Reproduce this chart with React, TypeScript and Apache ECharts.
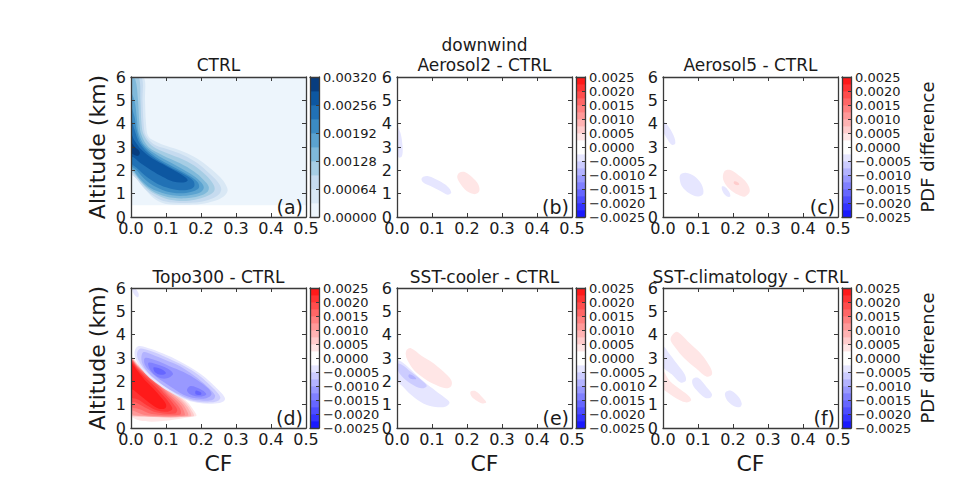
import React, { useEffect, useRef } from "react";
import * as echarts from "echarts";

// ---------- colour levels ----------
const CTRL_LEVELS = [0, 0.00032, 0.00064, 0.00096, 0.00128, 0.0016, 0.00192, 0.00224, 0.00256, 0.00288, 0.0032];
const CTRL_COLORS = ["#edf5fc", "#d9e8f5", "#c6dbef", "#a6cde4", "#7fb9da", "#5ba3d0", "#3b8bc3", "#2171b5", "#0d57a1", "#083d7f"];
const DIFF_LEVELS = [-0.0025, -0.00225, -0.002, -0.00175, -0.0015, -0.00125, -0.001, -0.00075, -0.0005, -0.00025, 0,
  0.00025, 0.0005, 0.00075, 0.001, 0.00125, 0.0015, 0.00175, 0.002, 0.00225, 0.0025];
const DIFF_COLORS = ["#1a1aff", "#3333ff", "#4d4dff", "#6666ff", "#8080ff", "#9999ff", "#b3b3ff", "#ccccff", "#e6e6ff", "#ffffff",
  "#ffffff", "#ffe6e6", "#ffcccc", "#ffb3b3", "#ff9999", "#ff8080", "#ff6666", "#ff4d4d", "#ff3333", "#ff1a1a"];

// ---------- contour polygons: [threshold, [[CF, altitude km], ...]] ----------
type Contour = [number, number[][]];

const CTRL_CONTOURS: Contour[] = [
  [0, [[0, 0.5], [0.5, 0.5], [0.5, 6], [0, 6]]],
  [0.00032, [[0, 6], [0.036, 6], [0.04, 5], [0.043, 4], [0.05, 3.45], [0.075, 3.2], [0.1, 3.05], [0.15, 2.8], [0.19, 2.5], [0.23, 2.05], [0.255, 1.7], [0.27, 1.4], [0.276, 1.12], [0.265, 0.88], [0.24, 0.7], [0.2, 0.56], [0.14, 0.53], [0.1, 0.56], [0.07, 0.75], [0.045, 1.1], [0.02, 1.6], [0, 1.9]]],
  [0.00064, [[0, 6], [0.03, 6], [0.033, 5], [0.036, 4], [0.042, 3.5], [0.065, 3.12], [0.1, 2.92], [0.15, 2.65], [0.19, 2.3], [0.225, 1.85], [0.248, 1.5], [0.258, 1.2], [0.25, 0.95], [0.23, 0.78], [0.19, 0.63], [0.14, 0.6], [0.1, 0.66], [0.07, 0.85], [0.04, 1.2], [0.015, 1.65], [0, 1.95]]],
  [0.00096, [[0, 6], [0.022, 6], [0.027, 5], [0.03, 4], [0.037, 3.5], [0.06, 3.05], [0.1, 2.75], [0.15, 2.45], [0.19, 2.1], [0.22, 1.7], [0.237, 1.35], [0.238, 1.12], [0.225, 0.95], [0.2, 0.8], [0.165, 0.7], [0.13, 0.7], [0.1, 0.78], [0.07, 0.97], [0.04, 1.3], [0.015, 1.75], [0, 2.05]]],
  [0.00128, [[0, 5.9], [0.012, 5.9], [0.02, 5], [0.024, 4], [0.03, 3.5], [0.05, 3.0], [0.09, 2.65], [0.14, 2.3], [0.18, 1.95], [0.207, 1.6], [0.222, 1.3], [0.218, 1.07], [0.195, 0.9], [0.155, 0.8], [0.12, 0.82], [0.09, 0.92], [0.06, 1.12], [0.03, 1.5], [0.01, 1.9], [0, 2.1]]],
  [0.0016, [[0, 5.3], [0.01, 5.0], [0.017, 4.2], [0.022, 3.6], [0.04, 3.05], [0.08, 2.6], [0.13, 2.2], [0.17, 1.85], [0.198, 1.52], [0.208, 1.27], [0.2, 1.07], [0.175, 0.95], [0.14, 0.9], [0.11, 0.95], [0.08, 1.08], [0.05, 1.3], [0.025, 1.65], [0.008, 2.0], [0, 2.2]]],
  [0.00192, [[0, 4.7], [0.01, 4.3], [0.016, 3.75], [0.03, 3.15], [0.07, 2.58], [0.12, 2.15], [0.163, 1.8], [0.19, 1.5], [0.194, 1.25], [0.178, 1.1], [0.15, 1.02], [0.12, 1.04], [0.09, 1.16], [0.06, 1.38], [0.035, 1.68], [0.015, 2.02], [0, 2.25]]],
  [0.00224, [[0, 4.2], [0.01, 3.75], [0.025, 3.15], [0.06, 2.6], [0.11, 2.15], [0.15, 1.84], [0.178, 1.55], [0.18, 1.3], [0.16, 1.16], [0.128, 1.17], [0.1, 1.27], [0.07, 1.47], [0.04, 1.78], [0.015, 2.12], [0, 2.35]]],
  [0.00256, [[0, 3.55], [0.01, 3.28], [0.03, 2.88], [0.06, 2.52], [0.09, 2.27], [0.12, 2.02], [0.15, 1.76], [0.162, 1.58], [0.15, 1.48], [0.12, 1.52], [0.09, 1.72], [0.06, 1.98], [0.03, 2.28], [0.01, 2.53], [0, 2.62]]],
  [0.00288, [[0, 3.2], [0.01, 3.02], [0.025, 2.78], [0.02, 2.62], [0.005, 2.7], [0, 2.78]]],
];

const AEROSOL2_CONTOURS: Contour[] = [
  [-0.00025, [[0, 3.9], [0.01, 3.6], [0.016, 3.0], [0.014, 2.6], [0.005, 2.55], [0, 2.8]]],
  [-0.00025, [[0.075, 1.72], [0.09, 1.75], [0.12, 1.55], [0.145, 1.3], [0.155, 1.05], [0.145, 0.95], [0.125, 1.1], [0.1, 1.3], [0.078, 1.45], [0.07, 1.6]]],
  [0.00025, [[0.178, 1.9], [0.195, 1.92], [0.215, 1.7], [0.232, 1.4], [0.235, 1.1], [0.222, 0.98], [0.2, 1.1], [0.182, 1.4], [0.172, 1.7]]],
];

const AEROSOL5_CONTOURS: Contour[] = [
  [-0.00025, [[0, 4.1], [0.012, 3.95], [0.03, 3.5], [0.035, 3.15], [0.025, 3.1], [0.01, 3.4], [0, 3.7]]],
  [-0.00025, [[0.05, 1.82], [0.065, 1.9], [0.09, 1.75], [0.11, 1.4], [0.115, 1.0], [0.1, 0.88], [0.075, 1.02], [0.055, 1.3], [0.048, 1.6]]],
  [0.00025, [[0.175, 1.95], [0.19, 2.02], [0.215, 1.8], [0.24, 1.45], [0.248, 1.1], [0.235, 0.88], [0.215, 0.95], [0.19, 1.2], [0.172, 1.6]]],
  [0.0005, [[0.203, 1.52], [0.212, 1.5], [0.218, 1.4], [0.212, 1.36], [0.203, 1.42]]],
  [-0.00025, [[0.168, 1.3], [0.178, 1.28], [0.19, 1.05], [0.192, 0.88], [0.183, 0.88], [0.172, 1.05]]],
];

const TOPO300_CONTOURS: Contour[] = [
  [-0.00025, [[0.003, 5.98], [0.012, 5.98], [0.022, 5.75], [0.02, 5.6], [0.01, 5.7]]],
  [0.00025, [[0, 3.05], [0.02, 2.75], [0.05, 2.35], [0.08, 2.0], [0.12, 1.6], [0.155, 1.2], [0.175, 0.85], [0.185, 0.5], [0, 0.5]]],
  [0.0005, [[0, 3.0], [0.02, 2.71], [0.05, 2.31], [0.08, 1.96], [0.118, 1.56], [0.152, 1.16], [0.17, 0.83], [0.178, 0.5], [0.005, 0.5], [0, 0.52]]],
  [0.00075, [[0, 2.97], [0.02, 2.68], [0.05, 2.28], [0.08, 1.93], [0.115, 1.53], [0.148, 1.13], [0.165, 0.8], [0.17, 0.5], [0.015, 0.5], [0, 0.58]]],
  [0.001, [[0, 2.95], [0.02, 2.65], [0.05, 2.25], [0.08, 1.9], [0.112, 1.5], [0.143, 1.1], [0.158, 0.78], [0.162, 0.52], [0.03, 0.52], [0, 0.68]]],
  [0.00125, [[0, 2.92], [0.02, 2.62], [0.05, 2.22], [0.08, 1.86], [0.108, 1.47], [0.137, 1.07], [0.15, 0.77], [0.152, 0.54], [0.045, 0.55], [0.01, 0.72], [0, 0.8]]],
  [0.0015, [[0, 2.89], [0.02, 2.59], [0.05, 2.19], [0.078, 1.83], [0.104, 1.44], [0.13, 1.04], [0.142, 0.76], [0.14, 0.57], [0.06, 0.6], [0.025, 0.8], [0, 0.95]]],
  [0.00175, [[0, 2.86], [0.02, 2.55], [0.048, 2.15], [0.075, 1.8], [0.1, 1.4], [0.122, 1.02], [0.132, 0.77], [0.125, 0.62], [0.075, 0.66], [0.04, 0.88], [0.012, 1.1], [0, 1.15]]],
  [0.002, [[0, 2.82], [0.02, 2.5], [0.045, 2.1], [0.07, 1.75], [0.094, 1.36], [0.113, 1.0], [0.118, 0.8], [0.105, 0.7], [0.075, 0.75], [0.045, 0.98], [0.02, 1.22], [0, 1.35]]],
  [0.00225, [[0, 2.75], [0.02, 2.42], [0.04, 2.05], [0.063, 1.7], [0.085, 1.33], [0.1, 1.02], [0.098, 0.85], [0.08, 0.83], [0.055, 1.05], [0.03, 1.35], [0.01, 1.6], [0, 1.7]]],
  [-0.00025, [[0.02, 3.5], [0.05, 3.42], [0.09, 3.2], [0.14, 2.85], [0.2, 2.3], [0.245, 1.7], [0.268, 1.3], [0.265, 1.15], [0.24, 1.05], [0.19, 1.08], [0.15, 1.25], [0.11, 1.55], [0.07, 1.95], [0.04, 2.35], [0.02, 2.75], [0.01, 3.2]]],
  [-0.0005, [[0.025, 3.4], [0.05, 3.33], [0.09, 3.1], [0.14, 2.75], [0.19, 2.3], [0.235, 1.7], [0.255, 1.33], [0.25, 1.18], [0.23, 1.1], [0.19, 1.13], [0.15, 1.3], [0.115, 1.6], [0.075, 2.0], [0.045, 2.4], [0.025, 2.8], [0.017, 3.15]]],
  [-0.00075, [[0.035, 3.25], [0.06, 3.15], [0.1, 2.9], [0.14, 2.65], [0.18, 2.25], [0.22, 1.75], [0.24, 1.4], [0.235, 1.22], [0.21, 1.17], [0.175, 1.22], [0.14, 1.42], [0.1, 1.75], [0.065, 2.15], [0.04, 2.55], [0.03, 2.9]]],
  [-0.001, [[0.04, 3.0], [0.07, 2.9], [0.11, 2.65], [0.15, 2.4], [0.19, 2.05], [0.22, 1.7], [0.23, 1.45], [0.215, 1.28], [0.185, 1.27], [0.15, 1.42], [0.12, 1.7], [0.09, 2.0], [0.06, 2.35], [0.04, 2.7]]],
  [-0.00125, [[0.05, 2.8], [0.08, 2.7], [0.11, 2.5], [0.12, 2.3], [0.1, 2.12], [0.075, 2.2], [0.055, 2.5]]],
  [-0.00125, [[0.17, 1.8], [0.2, 1.65], [0.215, 1.45], [0.2, 1.35], [0.175, 1.4], [0.16, 1.6]]],
  [-0.0015, [[0.065, 2.6], [0.09, 2.5], [0.1, 2.35], [0.085, 2.28], [0.068, 2.4]]],
  [-0.0015, [[0.185, 1.6], [0.2, 1.52], [0.2, 1.43], [0.185, 1.45]]],
];

const SST_COOLER_CONTOURS: Contour[] = [
  [-0.00025, [[0, 2.88], [0.015, 2.82], [0.05, 2.35], [0.08, 1.95], [0.11, 1.6], [0.135, 1.32], [0.15, 1.1], [0.14, 0.92], [0.11, 0.9], [0.075, 1.05], [0.04, 1.42], [0.015, 1.8], [0, 2.05]]],
  [-0.0005, [[0.003, 2.75], [0.015, 2.7], [0.04, 2.4], [0.07, 2.05], [0.085, 1.8], [0.07, 1.7], [0.04, 1.9], [0.015, 2.2], [0.003, 2.45]]],
  [-0.00075, [[0.035, 2.3], [0.05, 2.2], [0.055, 2.1], [0.042, 2.1], [0.033, 2.2]]],
  [0.00025, [[0.028, 3.35], [0.04, 3.42], [0.07, 3.1], [0.1, 2.82], [0.13, 2.45], [0.155, 2.05], [0.155, 1.8], [0.14, 1.7], [0.11, 1.85], [0.08, 2.1], [0.05, 2.45], [0.03, 2.9], [0.025, 3.15]]],
  [0.00025, [[0.21, 1.55], [0.225, 1.58], [0.245, 1.3], [0.255, 1.1], [0.245, 1.05], [0.23, 1.15], [0.213, 1.35]]],
];

const SST_CLIM_CONTOURS: Contour[] = [
  [0.00025, [[0.025, 3.95], [0.04, 4.12], [0.075, 3.65], [0.11, 3.15], [0.135, 2.6], [0.14, 2.3], [0.125, 2.2], [0.095, 2.55], [0.06, 3.0], [0.035, 3.45], [0.022, 3.75]]],
  [-0.00025, [[0, 3.5], [0.015, 3.25], [0.04, 2.75], [0.062, 2.3], [0.065, 2.02], [0.05, 1.95], [0.025, 2.3], [0, 2.65]]],
  [0.00025, [[0, 2.45], [0.02, 2.0], [0.05, 1.65], [0.075, 1.35], [0.08, 1.18], [0.065, 1.1], [0.035, 1.3], [0.01, 1.55], [0, 1.7]]],
  [-0.00025, [[0.085, 2.1], [0.1, 2.15], [0.125, 1.75], [0.14, 1.45], [0.135, 1.3], [0.12, 1.3], [0.1, 1.55], [0.085, 1.85]]],
  [-0.00025, [[0.18, 1.55], [0.195, 1.6], [0.215, 1.35], [0.225, 1.05], [0.22, 0.9], [0.205, 0.92], [0.185, 1.15], [0.177, 1.4]]],
];

const PANELS = [
  { title: "CTRL", sub: "", letter: "(a)", kind: "ctrl", contours: CTRL_CONTOURS },
  { title: "Aerosol2 - CTRL", sub: "downwind", letter: "(b)", kind: "diff", contours: AEROSOL2_CONTOURS },
  { title: "Aerosol5 - CTRL", sub: "", letter: "(c)", kind: "diff", contours: AEROSOL5_CONTOURS },
  { title: "Topo300 - CTRL", sub: "", letter: "(d)", kind: "diff", contours: TOPO300_CONTOURS },
  { title: "SST-cooler - CTRL", sub: "", letter: "(e)", kind: "diff", contours: SST_COOLER_CONTOURS },
  { title: "SST-climatology - CTRL", sub: "", letter: "(f)", kind: "diff", contours: SST_CLIM_CONTOURS },
];

// ---------- layout ----------
const COL_LEFT = [131, 397, 663];
const ROW_TOP = [77, 288];
const PW = 175;
const PH = 140;
const CB_OFF = 179;
const CB_W = 9;
const FONT = "DejaVu Sans";
const INK = "#1a1a1a";
const EDGE = "#3a3a3a";

function bandColor(levels: number[], colors: string[], v: number) {
  for (let k = 0; k < colors.length; k++) {
    const lo = levels[k];
    const hi = levels[k + 1];
    if (v >= 0 && Math.abs(lo - v) < 1e-9) return colors[k];
    if (v < 0 && Math.abs(hi - v) < 1e-9) return colors[k];
  }
  return "#ffffff";
}

function fmtDiff(v: number) {
  if (Math.abs(v) < 1e-9) return "0.0000";
  return (v < 0 ? "\u2212" : "") + Math.abs(v).toFixed(4);
}

function txt(text: string, x: number, y: number, size: number, align: string, valign: string) {
  return {
    type: "text",
    x,
    y,
    z: 20,
    silent: true,
    style: {
      text,
      fontSize: size,
      fontFamily: FONT,
      fill: INK,
      align,
      verticalAlign: valign,
      textAlign: align,
      textVerticalAlign: valign,
    },
  };
}

function buildOption() {
  const grid: any[] = [];
  const xAxis: any[] = [];
  const yAxis: any[] = [];
  const series: any[] = [];
  const graphic: any[] = [];

  const edgeLine = { show: true, onZero: false, lineStyle: { color: EDGE, width: 1.3 } };
  const lineOnly = (extra: any) => ({
    z: 10,
    axisLine: edgeLine,
    axisTick: { show: false },
    axisLabel: { show: false },
    splitLine: { show: false },
    ...extra,
  });

  PANELS.forEach((p, i) => {
    const left = COL_LEFT[i % 3];
    const top = ROW_TOP[Math.floor(i / 3)];
    const tick = { show: true, inside: true, length: 4, lineStyle: { color: EDGE, width: 1 } };

    // ---- plot grid ----
    const g = grid.length;
    grid.push({ left, top, width: PW, height: PH, show: false, containLabel: false });
    const xb = xAxis.length;
    xAxis.push({
      gridIndex: g, type: "value", min: 0, max: 0.5, interval: 0.1, position: "bottom", z: 10,
      axisLine: edgeLine, axisTick: tick,
      axisLabel: { show: true, fontSize: 16, fontFamily: FONT, color: INK, margin: 3, formatter: (v: number) => v.toFixed(1) },
      splitLine: { show: false },
    });
    xAxis.push({
      gridIndex: g, type: "value", min: 0, max: 0.5, interval: 0.1, position: "top", z: 10,
      axisLine: edgeLine, axisTick: tick, axisLabel: { show: false }, splitLine: { show: false },
    });
    const yl = yAxis.length;
    yAxis.push({
      gridIndex: g, type: "value", min: 0, max: 6, interval: 1, position: "left", z: 10,
      axisLine: edgeLine, axisTick: tick,
      axisLabel: { show: true, fontSize: 16, fontFamily: FONT, color: INK, margin: 5, formatter: (v: number) => String(Math.round(v)) },
      splitLine: { show: false },
    });
    yAxis.push({
      gridIndex: g, type: "value", min: 0, max: 6, interval: 1, position: "right", z: 10,
      axisLine: edgeLine, axisTick: tick, axisLabel: { show: false }, splitLine: { show: false },
    });

    const levels = p.kind === "ctrl" ? CTRL_LEVELS : DIFF_LEVELS;
    const colors = p.kind === "ctrl" ? CTRL_COLORS : DIFF_COLORS;
    const contours = p.contours;
    series.push({
      type: "custom",
      xAxisIndex: xb,
      yAxisIndex: yl,
      clip: true,
      z: 2,
      silent: true,
      data: contours.map((c) => [c[1][0][0], c[1][0][1]]),
      renderItem: (params: any, api: any) => {
        const c = contours[params.dataIndex];
        const pts = c[1].map((pt) => api.coord(pt));
        const isBox = p.kind === "ctrl" && c[0] === 0;
        return {
          type: "polygon",
          shape: { points: pts, smooth: isBox ? 0 : 0.35 },
          style: { fill: bandColor(levels, colors, c[0]), stroke: null },
        };
      },
    });

    // ---- colorbar ----
    const cg = grid.length;
    grid.push({ left: left + CB_OFF, top, width: CB_W, height: PH, show: false, containLabel: false });
    const cmin = levels[0];
    const cmax = levels[levels.length - 1];
    const cint = p.kind === "ctrl" ? 0.00064 : 0.0005;
    const cxb = xAxis.length;
    xAxis.push(lineOnly({ gridIndex: cg, type: "value", min: 0, max: 1, position: "bottom" }));
    xAxis.push(lineOnly({ gridIndex: cg, type: "value", min: 0, max: 1, position: "top" }));
    yAxis.push(lineOnly({ gridIndex: cg, type: "value", min: cmin, max: cmax, interval: cint, position: "left" }));
    const cyr = yAxis.length;
    yAxis.push({
      gridIndex: cg, type: "value", min: cmin, max: cmax, interval: cint, position: "right", z: 10,
      axisLine: edgeLine,
      axisTick: { show: true, inside: true, length: 3, lineStyle: { color: EDGE } },
      axisLabel: {
        show: true, fontSize: 13, fontFamily: FONT, color: INK, margin: 4, showMinLabel: true, showMaxLabel: true,
        formatter: p.kind === "ctrl" ? (v: number) => v.toFixed(5) : fmtDiff,
      },
      splitLine: { show: false },
    });
    const bands = colors.map((_, k) => [levels[k], levels[k + 1]]);
    series.push({
      type: "custom",
      xAxisIndex: cxb,
      yAxisIndex: cyr,
      z: 2,
      silent: true,
      data: bands.map((b) => [0.5, (b[0] + b[1]) / 2]),
      renderItem: (params: any, api: any) => {
        const b = bands[params.dataIndex];
        const p1 = api.coord([0, b[1]]);
        const p2 = api.coord([1, b[0]]);
        return {
          type: "rect",
          shape: { x: p1[0], y: p1[1], width: p2[0] - p1[0], height: p2[1] - p1[1] + 0.4 },
          style: { fill: colors[params.dataIndex], stroke: null },
        };
      },
    });

    // ---- texts ----
    const cx = left + PW / 2;
    const titleY = Math.floor(i / 3) === 0 ? 65 : 277;
    graphic.push(txt(p.title, cx, titleY, 17, "center", "middle"));
    if (p.sub) graphic.push(txt(p.sub, cx, 45, 17, "center", "middle"));
    graphic.push(txt(p.letter, left + PW - 3, top + PH - 1, 19, "right", "bottom"));
  });

  graphic.push({ ...txt("Altitude (km)", 97, 147, 22, "center", "middle"), rotation: Math.PI / 2 });
  graphic.push({ ...txt("Altitude (km)", 97, 358, 22, "center", "middle"), rotation: Math.PI / 2 });
  graphic.push({ ...txt("PDF difference", 927, 147, 18, "center", "middle"), rotation: Math.PI / 2 });
  graphic.push({ ...txt("PDF difference", 927, 358, 18, "center", "middle"), rotation: Math.PI / 2 });
  COL_LEFT.forEach((l) => graphic.push(txt("CF", l + PW / 2, 463, 22, "center", "middle")));

  return {
    animation: false,
    backgroundColor: "#ffffff",
    textStyle: { fontFamily: FONT },
    grid,
    xAxis,
    yAxis,
    series,
    graphic: { elements: graphic },
  };
}

export default function App() {
  const ref = useRef<HTMLDivElement>(null);
  useEffect(() => {
    if (!ref.current) return;
    const chart = echarts.init(ref.current, undefined, { renderer: "svg" });
    chart.setOption(buildOption() as any);
    return () => chart.dispose();
  }, []);
  return <div ref={ref} style={{ position: "fixed", left: 0, top: 0, width: 970, height: 494, background: "#fff" }} />;
}
